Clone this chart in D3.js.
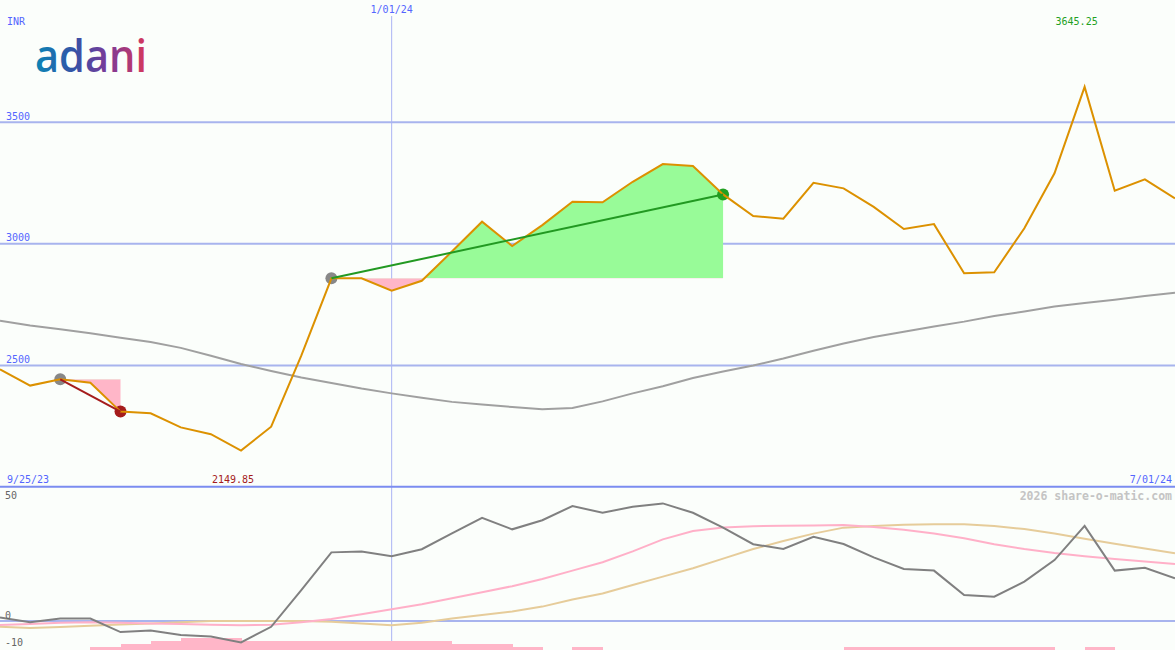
<!DOCTYPE html>
<html>
<head>
<meta charset="utf-8">
<script src="https://cdn.jsdelivr.net/npm/d3@7"></script>
<style>
  html, body { margin: 0; padding: 0; background: #fbfefb; }
  svg { display: block; }
  text { font-family: "DejaVu Sans Mono", monospace; }
</style>
</head>
<body>
<svg id="chart" width="1175" height="650"></svg>
<script>
// ---------- data ----------
const price = [2484, 2417, 2443, 2429, 2310, 2303, 2245, 2217, 2149.85, 2248,
               2540, 2858, 2858, 2807, 2848, 2968, 3091, 2991, 3077, 3173,
               3171, 3255, 3328, 3320, 3203, 3114, 3103, 3251, 3228, 3152,
               3061, 3081, 2879, 2883, 3064, 3290, 3645.25, 3218, 3265, 3187];
const movingAvg = [2684, 2664, 2649, 2632, 2614, 2596, 2572, 2540, 2506, 2477,
                   2450, 2428, 2405, 2385, 2367, 2350, 2339, 2329, 2320, 2325,
                   2352, 2385, 2414, 2448, 2475, 2500, 2528, 2560, 2590, 2617,
                   2638, 2660, 2680, 2703, 2722, 2742, 2757, 2770, 2785, 2799];
const momentum = [1.5, -0.5, 1, 1, -4.6, -4, -5.8, -6.5, -8.9, -2.4,
                  12.9, 28.6, 29, 27, 29.9, 36.5, 43, 38.2, 42, 47.9,
                  45.1, 47.6, 49, 45.1, 38.9, 32, 30, 35.1, 32.1, 26.5,
                  21.7, 21, 10.8, 10.1, 16.4, 25.4, 39.6, 21, 22.2, 17.8];
const signalPink = [-1.7, -1.2, -0.7, -0.5, -0.7, -1, -1.2, -1.6, -1.8, -1.6,
                    -0.5, 0.8, 2.8, 4.9, 7, 9.5, 12, 14.5, 17.5, 21,
                    24.5, 29, 34, 37.5, 39, 39.5, 39.7, 39.8, 40, 39.2,
                    38, 36.5, 34.5, 32, 30, 28.3, 27, 25.8, 24.8, 23.8];
const signalTan = [-2.4, -2.9, -2.5, -2, -1.5, -1, -0.5, 0, 0, 0,
                   0, -0.3, -1, -1.8, -0.7, 1, 2.5, 4, 6, 9,
                   11.5, 15, 18.5, 22, 26, 30, 33.3, 36.4, 38.9, 39.6,
                   40.1, 40.3, 40.3, 39.6, 38.3, 36.5, 34.3, 32.2, 30.2, 28.2];
const histBars = [0, 0, 0, 1, 2, 3, 4, 4, 3, 3, 3, 3, 3, 3, 3, 2, 2, 1, 0, 1,
                  0, 0, 0, 0, 0, 0, 0, 0, 1, 1, 1, 1, 1, 1, 1, 0, 1, 0, 0];
const trades = [
  { entry: 2, exit: 4, win: false },
  { entry: 11, exit: 24, win: true }
];
const priceTicks = [2500, 3000, 3500];
const indTicks = [50, 0, -10];
const firstDateLabel = "9/25/23";
const lastDateLabel = "7/01/24";
const markerDateLabel = "1/01/24";
const markerIndex = 13;
const currencyLabel = "INR";
const watermark = "2026 share-o-matic.com";
const logoText = "adani";

// ---------- setup ----------
const W = 1175, H = 650;
const svg = d3.select("#chart");
const x = d3.scaleLinear().domain([0, price.length - 1]).range([0, W]);
const y = d3.scaleLinear().domain([2000, 4002.5]).range([487, 0]);
const yi = d3.scaleLinear().domain([-12.08, 55]).range([650, 489]);
const yh = d3.scaleLinear().domain([0, 4]).range([650, 638]);

const C = {
  grid: "#a8b4ee", sep: "#7b8cf0", text: "#5466ff", price: "#dc9100",
  ma: "#a0a0a0", green: "#98fb98", pink: "#ffb6c8", gLine: "#229922",
  gMark: "#22a022", rLine: "#a51c1c", rMark: "#a51c1c", eMark: "#888888",
  mom: "#808080", sPink: "#ffb0c8", sTan: "#e6cc9a", vline: "#aab4f4"
};

// ---------- logo ----------
const defs = svg.append("defs");
const grad = defs.append("linearGradient").attr("id", "logoGrad")
  .attr("x1", "0%").attr("x2", "100%").attr("y1", "0%").attr("y2", "0%");
[["0%", "#0a86b5"], ["35%", "#3552a6"], ["65%", "#7a3a98"], ["100%", "#d8385a"]]
  .forEach(([o, c]) => grad.append("stop").attr("offset", o).attr("stop-color", c));
svg.append("text").attr("x", 35).attr("y", 72)
  .attr("font-weight", 600)
  .attr("font-size", 46).attr("textLength", 112).attr("lengthAdjust", "spacingAndGlyphs")
  .style("font-family", "'Open Sans', sans-serif")
  .attr("fill", "url(#logoGrad)").text(logoText);

// ---------- main panel grid ----------
svg.append("g").selectAll("line").data(priceTicks).join("line")
  .attr("x1", 0).attr("x2", W).attr("y1", d => y(d)).attr("y2", d => y(d))
  .attr("stroke", C.grid).attr("stroke-width", 2);
svg.append("g").selectAll("text").data(priceTicks).join("text")
  .attr("x", 6).attr("y", d => y(d) - 2.5).attr("font-size", 10).attr("fill", C.text)
  .text(d => d);

// vertical date marker
svg.append("line").attr("x1", x(markerIndex)).attr("x2", x(markerIndex))
  .attr("y1", 16).attr("y2", H).attr("stroke", C.vline).attr("stroke-width", 1);
svg.append("text").attr("x", x(markerIndex)).attr("y", 13).attr("text-anchor", "middle")
  .attr("font-size", 10).attr("fill", C.text).text(markerDateLabel);

// ---------- trade fills ----------
trades.forEach((t, k) => {
  const ey = y(price[t.entry]);
  const seg = d3.range(t.entry, t.exit + 1);
  const area = d3.area().x(i => x(i)).y0(ey).y1(i => y(price[i]));
  defs.append("clipPath").attr("id", "up" + k).append("rect")
    .attr("x", 0).attr("y", 0).attr("width", W).attr("height", ey);
  defs.append("clipPath").attr("id", "dn" + k).append("rect")
    .attr("x", 0).attr("y", ey).attr("width", W).attr("height", 487 - ey);
  svg.append("path").datum(seg).attr("d", area).attr("fill", C.green)
    .attr("clip-path", `url(#up${k})`);
  svg.append("path").datum(seg).attr("d", area).attr("fill", C.pink)
    .attr("clip-path", `url(#dn${k})`);
});

// moving average
svg.append("path").datum(movingAvg)
  .attr("d", d3.line().x((d, i) => x(i)).y(d => y(d)))
  .attr("fill", "none").attr("stroke", C.ma).attr("stroke-width", 2);

// markers
trades.forEach(t => {
  svg.append("circle").attr("cx", x(t.entry)).attr("cy", y(price[t.entry]))
    .attr("r", 6).attr("fill", C.eMark);
  svg.append("circle").attr("cx", x(t.exit)).attr("cy", y(price[t.exit]))
    .attr("r", 6).attr("fill", t.win ? C.gMark : C.rMark);
});

// price line
svg.append("path").datum(price)
  .attr("d", d3.line().x((d, i) => x(i)).y(d => y(d)))
  .attr("fill", "none").attr("stroke", C.price).attr("stroke-width", 2)
  .attr("stroke-linejoin", "miter");

// trade lines
trades.forEach(t => {
  svg.append("line").attr("x1", x(t.entry)).attr("y1", y(price[t.entry]))
    .attr("x2", x(t.exit)).attr("y2", y(price[t.exit]))
    .attr("stroke", t.win ? C.gLine : C.rLine).attr("stroke-width", 2);
});

// labels
svg.append("text").attr("x", 7).attr("y", 25).attr("font-size", 10)
  .attr("fill", C.text).text(currencyLabel);
const maxI = d3.maxIndex(price), minI = d3.minIndex(price);
svg.append("text").attr("x", x(maxI) - 8).attr("y", 25).attr("text-anchor", "middle")
  .attr("font-size", 10).attr("fill", C.gMark).text(d3.format(".2f")(price[maxI]));
svg.append("text").attr("x", x(minI) - 8).attr("y", 483).attr("text-anchor", "middle")
  .attr("font-size", 10).attr("fill", C.rLine).text(d3.format(".2f")(price[minI]));
svg.append("text").attr("x", 7).attr("y", 483).attr("font-size", 10)
  .attr("fill", C.text).text(firstDateLabel);
svg.append("text").attr("x", 1172).attr("y", 483).attr("text-anchor", "end")
  .attr("font-size", 10).attr("fill", C.text).text(lastDateLabel);

// panel separator
svg.append("line").attr("x1", 0).attr("x2", W).attr("y1", 486.7).attr("y2", 486.7)
  .attr("stroke", C.sep).attr("stroke-width", 2);

// ---------- lower panel ----------
svg.append("g").attr("shape-rendering", "crispEdges")
  .selectAll("rect").data(histBars).join("rect")
  .attr("x", (d, i) => x(i)).attr("width", (d, i) => x(i + 1) - x(i) + 0.5)
  .attr("y", d => yh(d)).attr("height", d => yh(0) - yh(d))
  .attr("fill", C.pink);

svg.append("line").attr("x1", 0).attr("x2", W).attr("y1", yi(0)).attr("y2", yi(0))
  .attr("stroke", C.grid).attr("stroke-width", 2);

const lineI = d3.line().x((d, i) => x(i)).y(d => yi(d));
svg.append("path").datum(signalTan).attr("d", lineI)
  .attr("fill", "none").attr("stroke", C.sTan).attr("stroke-width", 2);
svg.append("path").datum(signalPink).attr("d", lineI)
  .attr("fill", "none").attr("stroke", C.sPink).attr("stroke-width", 2);
svg.append("path").datum(momentum).attr("d", lineI)
  .attr("fill", "none").attr("stroke", C.mom).attr("stroke-width", 2);

svg.append("g").selectAll("text").data(indTicks).join("text")
  .attr("x", 5).attr("y", d => d < 0 ? yi(d) + 1 : yi(d) - 2)
  .attr("font-size", 10).attr("fill", "#666").text(d => d);

svg.append("text").attr("x", 1172).attr("y", 500).attr("text-anchor", "end")
  .attr("font-size", 11.5).attr("font-weight", "bold").attr("fill", "#c4c4c4")
  .text(watermark);
</script>
</body>
</html>
